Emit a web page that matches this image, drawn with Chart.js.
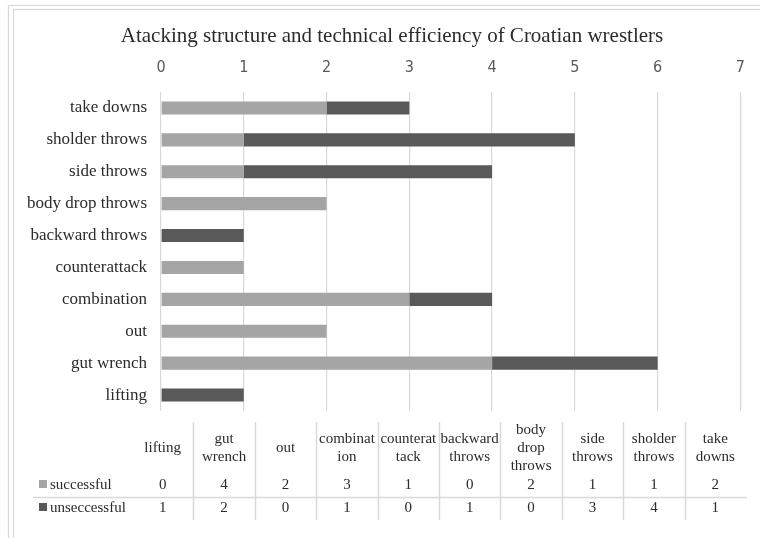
<!DOCTYPE html>
<html>
<head>
<meta charset="utf-8">
<script src="https://cdn.jsdelivr.net/npm/chart.js"></script>
<style>
    html, body { margin: 0; padding: 0; background: #fff; }
    #wrap { width: 760px; height: 538px; }
</style>
</head>
<body>
<div id="wrap"><canvas id="wrestling_chart" width="760" height="538"></canvas></div>
<script>
// data (table order, Excel draws the first category at the bottom)
let categories = ['lifting', 'gut wrench', 'out', 'combination', 'counterattack', 'backward throws', 'body drop throws', 'side throws', 'sholder throws', 'take downs'];
let successful = [0, 4, 2, 3, 1, 0, 2, 1, 1, 2];
let unsuccessful = [1, 2, 0, 1, 0, 1, 0, 3, 4, 1];
let seriesNames = ['successful', 'unseccessful'];
let tableHeaders = [['lifting'], ['gut', 'wrench'], ['out'], ['combinat', 'ion'], ['counterat', 'tack'], ['backward', 'throws'], ['body', 'drop', 'throws'], ['side', 'throws'], ['sholder', 'throws'], ['take', 'downs']];
let xTicks = [0, 1, 2, 3, 4, 5, 6, 7];
let chartTitle = 'Atacking structure and technical efficiency of Croatian wrestlers';

let serif = "'Liberation Serif', 'Times New Roman', serif";
let lightGray = '#a5a5a5';
let darkGray = '#595959';
let lineGray = '#d9d9d9';
let textColor = '#2b2b2b';

// frame, title + data table under the plot
const dataTable = {
    id: 'dataTable',
    beforeDraw(chart) {
        let ctx = chart.ctx;
        ctx.save();
        ctx.strokeStyle = lineGray;
        ctx.lineWidth = 1.3;
        ctx.strokeRect(8.5, 5.5, 800, 600);
        ctx.strokeRect(13.5, 9.5, 800, 600);
        ctx.restore();
    },
    afterDraw(chart) {
        let ctx = chart.ctx;
        let left = 132, colW = 61.4;
        let headMid = 448, rowY = [485, 508];
        let colors = [lightGray, darkGray];
        let rows = [successful, unsuccessful];
        ctx.save();

        ctx.fillStyle = textColor;
        ctx.font = '21px ' + serif;
        ctx.textAlign = 'center';
        ctx.textBaseline = 'middle';
        ctx.fillText(chartTitle, 392, 36);

        ctx.strokeStyle = lineGray;
        ctx.lineWidth = 1.5;
        // column separators
        for (let i = 1; i < categories.length; i++) {
            let x = Math.round(left + i * colW) + 0.5;
            ctx.beginPath();
            ctx.moveTo(x, 422);
            ctx.lineTo(x, 520);
            ctx.stroke();
        }
        // row separator
        ctx.beginPath();
        ctx.moveTo(33, 497.5);
        ctx.lineTo(747, 497.5);
        ctx.stroke();

        ctx.font = '15px ' + serif;
        for (let i = 0; i < categories.length; i++) {
            let cx = left + (i + 0.5) * colW;
            let lines = tableHeaders[i];
            for (let j = 0; j < lines.length; j++) {
                ctx.fillText(lines[j], cx, headMid - (lines.length - 1) * 9 + j * 18);
            }
            for (let r = 0; r < rows.length; r++) {
                ctx.fillText(String(rows[r][i]), cx, rowY[r]);
            }
        }
        // legend keys
        ctx.textAlign = 'left';
        for (let r = 0; r < rows.length; r++) {
            ctx.fillStyle = colors[r];
            ctx.fillRect(39, rowY[r] - 5, 8, 8);
            ctx.fillStyle = textColor;
            ctx.fillText(seriesNames[r], 50, rowY[r]);
        }
        ctx.restore();
    }
};

let wrestling = document.getElementById('wrestling_chart');
let wrestlingChart = new Chart(wrestling, {
    type: 'bar',
    data: {
        labels: categories,
        datasets: [{
            label: seriesNames[0],
            data: successful,
            backgroundColor: lightGray
        }, {
            label: seriesNames[1],
            data: unsuccessful,
            backgroundColor: darkGray
        }]
    },
    options: {
        responsive: false,
        devicePixelRatio: 1,
        animation: false,
        indexAxis: 'y',
        barPercentage: 0.41,
        categoryPercentage: 1,
        layout: {
            padding: { top: 56, right: 17, bottom: 127, left: 0 }
        },
        plugins: {
            legend: { display: false },
            tooltip: { enabled: false },
            title: { display: false }
        },
        scales: {
            x: {
                position: 'top',
                stacked: true,
                min: 0,
                max: 7,
                afterBuildTicks: function (axis) {
                    axis.ticks = xTicks.map(v => ({ value: v }));
                },
                afterFit: function (scale) {
                    scale.height = 36;
                },
                grid: { color: lineGray, lineWidth: 1.2, drawTicks: false },
                border: { display: false },
                ticks: {
                    color: '#595959',
                    padding: 15,
                    font: { family: "'Liberation Sans Narrow', 'DejaVu Sans Condensed', sans-serif", size: 16 }
                }
            },
            y: {
                stacked: true,
                reverse: true,
                afterFit: function (scale) {
                    scale.width = 161;
                },
                grid: { display: false, drawTicks: false },
                border: { display: false },
                ticks: {
                    color: textColor,
                    padding: 14,
                    font: { family: serif, size: 17 }
                }
            }
        }
    },
    plugins: [dataTable]
});
</script>
</body>
</html>
